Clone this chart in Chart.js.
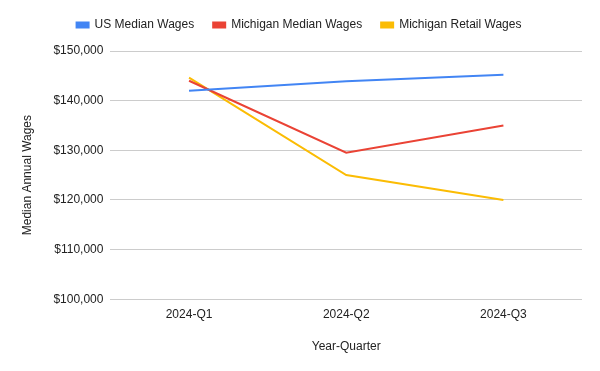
<!DOCTYPE html>
<html>
<head>
<meta charset="utf-8">
<script src="https://cdn.jsdelivr.net/npm/chart.js@4"></script>
<style>
  html, body { margin: 0; padding: 0; background: #fff; }
  #wrap { width: 600px; height: 371px; }
</style>
</head>
<body>
<div id="wrap"><canvas id="wageChart"></canvas></div>
<script>
const quarters = ["2024-Q1", "2024-Q2", "2024-Q3"];
const usMedian = [142000, 143900, 145200];
const michiganMedian = [144000, 129500, 135000];
const michiganRetail = [144650, 125000, 120000];

const font = { family: "Arial, 'Liberation Sans', sans-serif", size: 12 };

function series(label, data, color) {
  return {
    label: label,
    data: data,
    borderColor: color,
    backgroundColor: color,
    borderWidth: 2,
    pointRadius: 0,
    tension: 0
  };
}

// a bit more room under the legend
const legendGap = {
  id: "legendGap",
  beforeInit(chart) {
    const fit = chart.legend.fit;
    chart.legend.fit = function () {
      fit.bind(chart.legend)();
      this.height += 10;
    };
  }
};

new Chart(document.getElementById("wageChart"), {
  type: "line",
  data: {
    labels: quarters,
    datasets: [
      series("US Median Wages", usMedian, "#4285F4"),
      series("Michigan Median Wages", michiganMedian, "#EA4335"),
      series("Michigan Retail Wages", michiganRetail, "#FBBC04")
    ]
  },
  options: {
    responsive: true,
    maintainAspectRatio: false,
    animation: false,
    layout: { padding: { top: 0, right: 18, bottom: 13, left: 16 } },
    plugins: {
      legend: {
        position: "top",
        labels: {
          font: font,
          color: "#222",
          boxWidth: 12,
          boxHeight: 5,
          padding: 19
        }
      },
      tooltip: { enabled: false }
    },
    scales: {
      x: {
        offset: true,
        grid: { display: false },
        border: { display: false },
        ticks: { font: font, color: "#222", padding: 0 },
        title: { display: true, text: "Year-Quarter", font: font, color: "#222", padding: { top: 18 } }
      },
      y: {
        min: 100000,
        max: 150000,
        grid: { color: "#ccc", drawTicks: false },
        border: { display: false },
        ticks: {
          stepSize: 10000,
          font: font,
          color: "#222",
          padding: 7,
          callback: v => "$" + v.toLocaleString("en-US")
        },
        title: { display: true, text: "Median Annual Wages", font: font, color: "#222", padding: { bottom: 12 } }
      }
    }
  },
  plugins: [legendGap]
});
</script>
</body>
</html>
